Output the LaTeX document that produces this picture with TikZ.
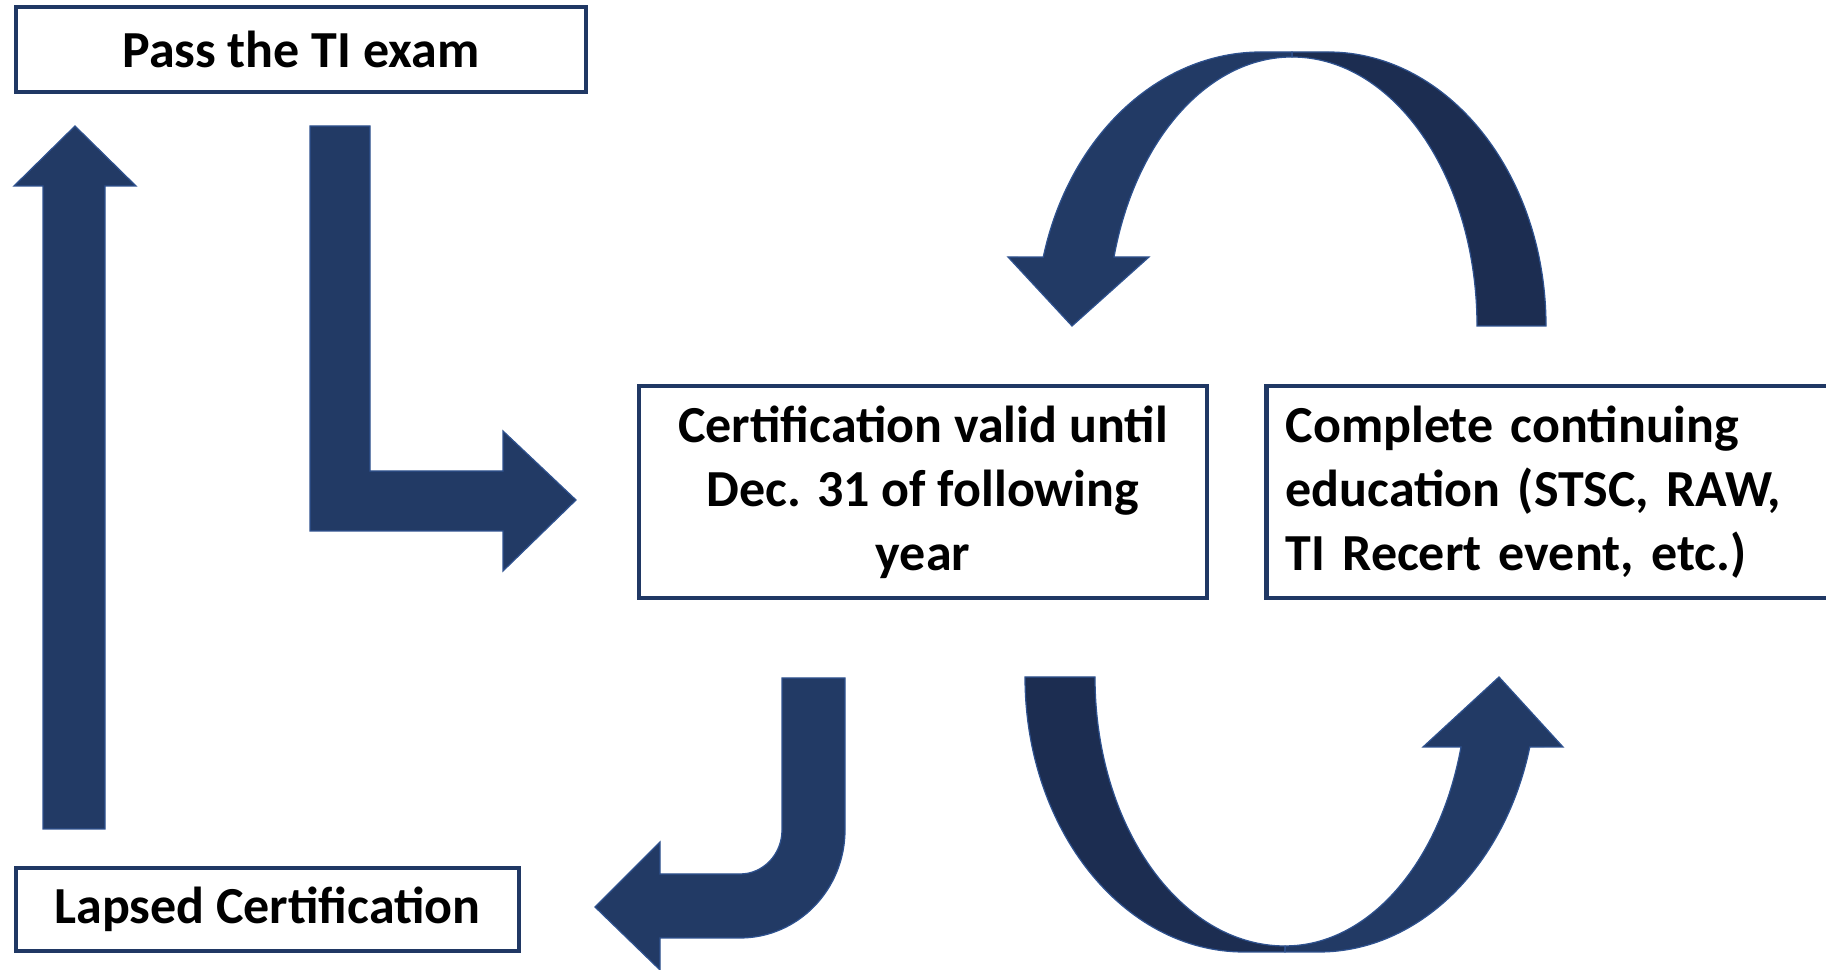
\documentclass[tikz,border=0pt]{standalone}
\usepackage{fontspec}
\setmainfont{Carlito}
\usetikzlibrary{positioning}
\definecolor{navyfront}{HTML}{223A65}
\definecolor{navyback}{HTML}{1C2D51}
\definecolor{navyedge}{HTML}{2F528F}
\definecolor{navybox}{HTML}{203864}

\begin{document}
\begin{tikzpicture}[
    x=0.02cm, y=0.02cm,
    box/.style={rectangle, draw=navybox, line width=2.6pt, fill=white, align=center, font={\fontsize{29.6}{36.5}\selectfont\bfseries}},
    block/.style={fill=navyfront, draw=navyedge, line width=0.7pt},
    blockback/.style={block, fill=navyback},
]
    \useasboundingbox (0,0) rectangle (1826,970);
    \node[box, minimum width=11.4cm, minimum height=1.7cm] (pass) at (301,920.5) {Pass the TI exam};
    \node[box, minimum width=10.06cm, minimum height=1.66cm] (lapsed) at (267.5,60.5) {Lapsed Certification};
    \node[box, minimum width=11.36cm, minimum height=4.24cm] (cert) at (923,478) {Certification valid until\\Dec. 31 of following\\year};
    \node[box, align=left, text width=11cm, inner xsep=0.38cm, minimum height=4.24cm, right=1.1cm of cert] (ce) {Complete continuing\\education (STSC, RAW,\\TI Recert event, etc.)};

    \draw[block] (43,141) -- (43,784) -- (14,784) -- (75,844) -- (136,784) -- (105,784) -- (105,141) -- cycle;
    \draw[block] (310,844) -- (370,844) -- (370,499) -- (503,499) -- (503,539) -- (576,470) -- (503,399) -- (503,439) -- (310,439) -- cycle;
    \draw[block] (782,292) -- (845,292) -- (845,140) arc[start angle=0, end angle=-90, x radius=105, y radius=108]
        -- (660,32) -- (660,0) -- (595,63) -- (660,128) -- (660,96) -- (740,96)
        arc[start angle=-90, end angle=0, x radius=42, y radius=44] -- cycle;

    \draw[blockback] (1292,918) -- (1328,918) arc[start angle=90, end angle=0, x radius=218, y radius=274]
        -- (1477,644) arc[start angle=0, end angle=90, x radius=185, y radius=269] -- cycle;
    \draw[block] (1292,918) -- (1261,918) arc[start angle=90, end angle=165.42, x radius=225, y radius=274]
        -- (1008,713) -- (1072,644) -- (1149,713) -- (1114,713)
        arc[start angle=165.14, end angle=90, x radius=184.2, y radius=269] -- cycle;

    \draw[blockback] (1025,293) arc[start angle=180, end angle=270, x radius=219, y radius=275]
        -- (1285,18) -- (1285,24) arc[start angle=270, end angle=180, x radius=190, y radius=269] -- cycle;
    \draw[block] (1285,18) -- (1319,18) arc[start angle=270, end angle=345.25, x radius=218, y radius=275]
        -- (1563,223) -- (1499,293) -- (1423,223) -- (1461,223)
        arc[start angle=344.9, end angle=270, x radius=182, y radius=269] -- cycle;
\end{tikzpicture}
\end{document}
